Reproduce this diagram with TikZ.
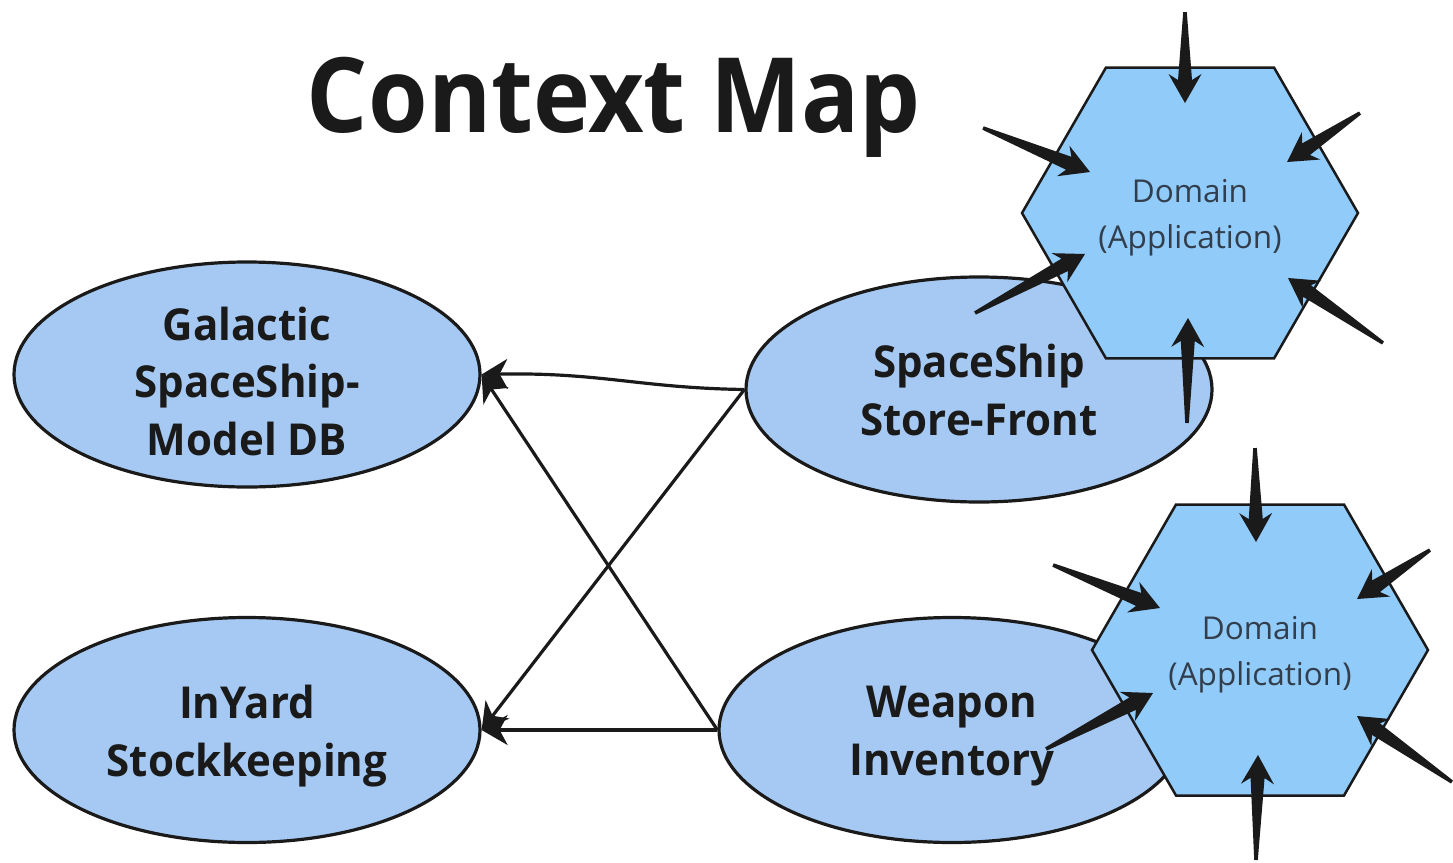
\documentclass[tikz,border=0pt]{standalone}
\usepackage{fontspec}
\setmainfont{Open Sans}
\newfontfamily\titlefont{Open Sans}[FakeStretch=0.927]
\newfontfamily\ctxfont{Open Sans}[FakeStretch=0.955]
\usetikzlibrary{shapes.geometric,calc,arrows.meta}
\definecolor{ellfill}{RGB}{166,201,243}
\definecolor{hexfill}{RGB}{144,203,250}
\definecolor{hextext}{RGB}{50,62,76}
\definecolor{ink}{RGB}{26,26,26}
\tikzset{
  ctx/.style={ellipse, draw=ink, line width=3.2pt, fill=ellfill, minimum width=466pt, minimum height=225pt, inner sep=0pt},
  ctxtext/.style={align=center, text=ink, inner sep=0pt, font=\ctxfont\bfseries\fontsize{44}{57.5}\selectfont},
  hexa/.style={regular polygon, regular polygon sides=6, minimum size=336pt, inner sep=0pt, draw=ink, line width=2.5pt, fill=hexfill},
  hextxt/.style={align=center, text=hextext, inner sep=0pt, font=\fontsize{31.5}{46}\selectfont},
  rel/.style={draw=ink, line width=3.2pt, -{Stealth[length=26pt,width=30pt,inset=8pt]}},
}
\newcommand\spike[2]{%
  \coordinate (sb) at ($(#2)!29pt!(#1)$);
  \coordinate (sh) at ($(#2)!23pt!(#1)$);
  \fill[ink] ($(#1)!1.8pt!90:(#2)$) -- ($(sh)!7pt!90:(#2)$) -- ($(sb)!16.5pt!90:(#2)$) -- (#2)
    -- ($(sb)!16.5pt!-90:(#2)$) -- ($(sh)!7pt!-90:(#2)$) -- ($(#1)!1.8pt!-90:(#2)$) -- cycle;
}
\begin{document}
\begin{tikzpicture}[x=1pt,y=-1pt]
\useasboundingbox (0,0) rectangle (1453,862);
\node[anchor=base, text=ink, inner sep=0pt, font=\titlefont\bfseries\fontsize{104}{110}\selectfont] (title) at (614,132) {Context Map};

\node[ctx] (gal) at (247,374.5) {};
\node[ctx] (inyard) at (247,730) {};
\node[ctx] (store) at (979,389.5) {};
\node[ctx] (weapon) at (952,730) {};
\node[ctxtext] (galT) at (247,381) {Galactic\\SpaceShip-\\Model DB};
\node[ctxtext] (inyardT) at (247,736) {InYard\\Stockkeeping};
\node[ctxtext] (storeT) at (979,390) {SpaceShip\\Store-Front};
\node[ctxtext] (weaponT) at (952,736) {Weapon\\Inventory};

\draw[rel] (store.west) .. controls (640,388) and (600,372) .. (gal.east);
\draw[rel] (store.west) -- (inyard.east);
\draw[rel] (weapon.west) -- (gal.east);
\draw[rel] (weapon.west) -- (inyard.east);

\node[hexa] (hexA) at (1190,213) {};
\node[hexa] (hexB) at (1260,650) {};
\node[hextxt] (hexAT) at (1190,218) {Domain\\(Application)};
\node[hextxt] (hexBT) at (1260,655) {Domain\\(Application)};

% spikes around top hexagon
\coordinate (a1t) at (1185,12);  \coordinate (a1h) at (1185,103);
\coordinate (a2t) at (983,128);  \coordinate (a2h) at (1090,172);
\coordinate (a3t) at (1360,113); \coordinate (a3h) at (1287,162);
\coordinate (a4t) at (975,313);  \coordinate (a4h) at (1085,254);
\coordinate (a5t) at (1383,343); \coordinate (a5h) at (1288,278);
\coordinate (a6t) at (1187,423); \coordinate (a6h) at (1188,318);
\spike{a1t}{a1h}\spike{a2t}{a2h}\spike{a3t}{a3h}
\spike{a4t}{a4h}\spike{a5t}{a5h}\spike{a6t}{a6h}

% spikes around bottom hexagon
\coordinate (b1t) at (1255,448); \coordinate (b1h) at (1256,542);
\coordinate (b2t) at (1053,565); \coordinate (b2h) at (1160,608);
\coordinate (b3t) at (1430,550); \coordinate (b3h) at (1357,599);
\coordinate (b4t) at (1046,749); \coordinate (b4h) at (1153,693);
\coordinate (b5t) at (1452,782); \coordinate (b5h) at (1357,716);
\coordinate (b6t) at (1256,860); \coordinate (b6h) at (1258,755);
\spike{b1t}{b1h}\spike{b2t}{b2h}\spike{b3t}{b3h}
\spike{b4t}{b4h}\spike{b5t}{b5h}\spike{b6t}{b6h}
\end{tikzpicture}
\end{document}
